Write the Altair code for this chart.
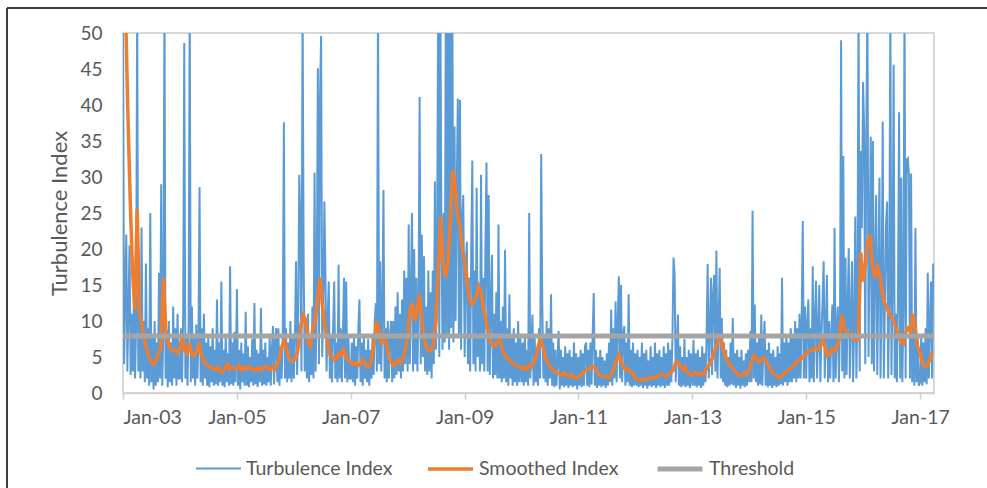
import altair as alt
import pandas as pd
import numpy as np

# ---------------- data ----------------
# Turbulence Index, roughly weekly samples, one list per year
turb_2003 = [55, 4, 13, 22, 3, 12, 20.5, 2.5, 11, 3, 14, 2, 9, 55, 3, 12, 2, 23, 3, 10, 1.5, 18, 2, 9, 1, 25,
             1.5, 8, 0.5, 10, 1, 7, 1.5, 16.7, 2, 29, 1, 9, 55, 2, 8, 0.8, 10, 1.5, 7, 1, 12, 2, 9, 1, 11, 2]
turb_2004 = [2, 9, 1.5, 11, 48.6, 2, 8, 1, 10, 55, 1.5, 12, 2, 8, 1, 9.5, 2, 7, 28.6, 1.5, 9, 1, 11, 2, 7, 1,
             8, 0.8, 6.5, 1.5, 9, 1, 6, 1.2, 13, 1, 7, 1.5, 15.5, 1, 6, 0.8, 8, 1.5, 5.5, 1, 17.6, 1.2, 7, 1, 8.5, 1.5]
turb_2005 = [14.4, 1, 6, 0.5, 7, 1.5, 5.5, 1, 11.3, 1, 6.5, 0.8, 5, 1.5, 7.5, 1, 12.5, 1.2, 6, 0.8, 5.5, 1.5,
             11.8, 1, 6, 1.2, 7, 1, 5, 1.5, 8, 1, 6, 9.3, 1.2, 7, 9, 1.5, 9, 1, 6.5, 2, 8, 37.6, 2, 9, 1.5, 7, 2, 10, 1.5, 8]
turb_2006 = [2, 8, 18.3, 2.5, 10, 30.3, 22.9, 3, 55, 18.3, 3, 9, 2, 11, 1.5, 8, 2.5, 12, 2, 30.6, 3, 14, 45.1, 4,
             41, 49.6, 5, 12, 26.6, 16, 3, 10, 15.5, 2, 8, 1.5, 9, 15.5, 2, 7, 1.5, 17.8, 2, 9, 1.5, 8, 16, 2, 15.5, 1.5, 8, 2]
turb_2007 = [2, 7, 1.5, 8, 1, 6.5, 2, 9, 13, 1.5, 7, 1, 8, 2, 6, 1.5, 7.5, 1, 6, 2, 8, 2.5, 10, 12.5, 3, 55, 4,
             18.3, 3, 11, 28.2, 2, 9, 1.5, 10, 2, 8, 10, 1.5, 10, 2, 12, 2.5, 14, 3, 11, 2, 13, 3, 17, 4, 16]
turb_2008 = [3, 23.4, 4, 14, 25, 3, 20, 4, 16, 3, 12, 41.1, 4, 22, 5, 19, 3, 12, 2.5, 17, 3, 14, 2, 17, 4, 29.4,
             6, 20, 55, 5, 55, 22, 6, 25, 7, 55, 8, 55, 6, 55, 9, 55, 7, 37, 10, 28, 40.9, 8, 40.7, 6, 24, 27.5]
turb_2009 = [5, 18, 21, 4, 16, 3, 20, 32.3, 4, 17, 3, 28.5, 5, 15, 3, 30.3, 4, 16, 3, 20, 32, 3, 27.5, 2.5, 12,
             19.2, 2, 11, 2.5, 14, 2, 23.4, 2, 10, 1.5, 12, 2, 19.9, 1.5, 9, 1, 13.7, 2, 8, 1, 9, 1.5, 7, 1, 10, 1.5, 8]
turb_2010 = [1.5, 7, 1, 8, 1.5, 6, 1, 25, 2, 7, 10.9, 1, 8, 1.5, 6, 1, 9, 2, 33.2, 12.3, 2, 8, 1.5, 10, 1, 9, 2,
             13.7, 1, 7, 0.8, 6, 1, 5, 8.6, 0.5, 6, 1, 5, 0.8, 6.5, 1, 5.5, 0.7, 6, 1, 5, 0.8, 7, 1, 5.5, 0.5]
turb_2011 = [5, 1, 6, 0.8, 5.5, 1, 6.5, 7, 1, 6, 0.8, 7, 1.2, 8, 13.9, 1, 6, 0.7, 5, 1, 6, 0.8, 5, 1, 4.5, 0.7,
             5.5, 1, 7, 1.5, 11.6, 1, 9, 2, 12.7, 1.5, 10, 16.2, 2, 15, 1.5, 8, 9.3, 1, 7, 1.5, 13.7, 1, 6, 0.8, 7, 1]
turb_2012 = [5.5, 1, 6, 0.8, 5, 1, 7, 0.7, 5.5, 1, 6, 0.6, 4.5, 1, 6.5, 0.8, 5, 1, 7, 0.7, 5.5, 1, 6, 0.8, 5, 1,
             6.5, 0.7, 5.5, 1, 7, 1, 6, 1.5, 8, 18.8, 16.4, 1.5, 6, 10.9, 1, 6.5, 0.8, 5, 1, 7.5, 0.8, 5, 1, 6, 0.7, 5.5]
turb_2013 = [1, 7.4, 1, 5.5, 0.8, 6, 1, 5, 0.7, 6.5, 1, 5.5, 1.5, 8, 17.9, 2, 9, 16, 2.5, 13.9, 16.4, 3, 19.8, 2,
             10, 17.4, 2, 10.4, 1.5, 7, 1, 6, 0.8, 5, 1, 7, 1.2, 10.4, 1, 5.5, 0.7, 6, 1, 5, 0.6, 6, 1, 4.5, 0.8, 5.5, 1, 6]
turb_2014 = [1.5, 8.6, 1.5, 25.3, 2, 12.3, 1.5, 7, 1, 8, 1.2, 10.9, 1, 7, 10, 1, 6, 0.8, 7, 1, 5.5, 0.7, 6, 1, 5,
             0.8, 6.5, 1, 5.5, 1.2, 16, 1, 7, 1.5, 8, 1, 7, 1.5, 9, 1.5, 8, 2, 10, 1.5, 9, 2, 11, 2, 10, 23.9, 2, 12]
turb_2015 = [2, 10, 13, 1.5, 9, 2, 17.6, 1.5, 10, 15.6, 2, 9, 15, 1.5, 8, 12.7, 18.3, 2, 9, 16.4, 1.5, 10, 2, 8,
             12.3, 1.5, 22.9, 2, 9, 12, 1.5, 10, 49, 3, 32.9, 2, 18.8, 2.5, 12, 20.1, 2, 11, 18.3, 1.5, 10, 24.5, 2, 12,
             55, 3, 33.6, 22.9]
turb_2016 = [43.2, 36.3, 4, 36.5, 55, 5, 20, 35.6, 4, 35, 3, 18, 27.5, 2.5, 16, 29.9, 2, 14, 37.7, 2, 12, 23.4,
             26.6, 2, 13, 55, 2.5, 15, 45.6, 2, 11, 1.5, 14, 39, 2, 29.9, 1.5, 12, 55, 2, 32.4, 32.6, 30.3, 2, 30.5,
             1.5, 10, 1, 22.9, 1.5, 8, 1]
turb_2017 = [1.5, 8, 1, 7, 1.5, 9, 1.2, 16.7, 2, 10, 15.5, 2, 18]

# Smoothed Index, roughly twice-monthly samples, one list per year
smooth_2003 = [90, 55, 40, 27, 17, 11.5, 25.5, 11, 9.5, 7.5, 6, 5, 4.3, 4, 4.5, 5.5, 6.2, 16, 9, 7, 6.2, 5.8, 6, 5.6]
smooth_2004 = [6, 8.2, 6, 5.5, 7, 5.5, 5.2, 5.5, 7, 5.5, 4.5, 4, 3.8, 3.5, 3.4, 3.2, 3.6, 3, 2.9, 3.5, 4, 3.3, 3.6, 3.4]
smooth_2005 = [3.4, 3.8, 3.2, 3.6, 3.3, 3.7, 3.4, 3.3, 3.1, 3.5, 3.2, 3.4, 3.8, 3.4, 3.2, 3.6, 3.3, 4, 5, 6.5, 7.3, 6, 4.8, 4.4]
smooth_2006 = [4.5, 5, 6.5, 9.5, 10.8, 10.2, 7, 6.5, 9, 10, 13, 16, 12.5, 9.5, 7.5, 5.5, 5, 4.6, 4.8, 5.5, 5.2, 6, 5, 4.5]
smooth_2007 = [4.4, 4, 4.2, 3.8, 4, 4.6, 4.2, 3.6, 3.8, 5, 7.5, 9.9, 8.5, 6.8, 8, 7, 5, 4.4, 3.8, 4, 4.6, 4.2, 4.8, 6]
smooth_2008 = [8, 11.5, 12.5, 10, 11.5, 13.7, 10, 7.5, 6.3, 5.8, 6, 7, 10, 18, 24.5, 18, 16, 18, 24, 31, 29, 25, 23, 20]
smooth_2009 = [18, 15.5, 13, 12.3, 12.8, 13.5, 14.8, 14, 11.5, 10, 8.5, 7, 6.5, 6.7, 7.2, 7.3, 6, 5.2, 4.8, 4.5, 4.2, 4, 3.8, 3.6]
smooth_2010 = [3.4, 3.6, 3.3, 3.8, 3.5, 4.2, 5, 6.5, 7.5, 6.5, 5, 4.2, 3.8, 3.2, 3, 2.8, 2.7, 2.5, 2.8, 2.5, 2.3, 2.6, 2.2, 2.1]
smooth_2011 = [2.2, 2.5, 2.8, 3.2, 3.3, 3.5, 3.7, 3.5, 2.9, 2.5, 2.3, 2.2, 2.3, 2.2, 2.6, 3.5, 4.5, 5.3, 4.5, 3.6, 3.2, 3.3, 2.9, 2.8]
smooth_2012 = [2, 1.9, 1.8, 1.9, 2, 1.9, 2, 2.2, 2.1, 2.3, 2.4, 2.6, 2.5, 2.3, 2.6, 2.8, 3.2, 4.2, 4.3, 3.8, 3.3, 3.6, 2.8, 2.6]
smooth_2013 = [2.5, 2.9, 2.7, 2.5, 2.8, 2.6, 3.4, 3.8, 4.5, 5.5, 6.5, 7.5, 7.8, 6, 5, 4.4, 3.8, 3.4, 3, 2.6, 2.4, 2.5, 2.8, 2.6]
smooth_2014 = [3.2, 4.4, 5.2, 4.8, 4.3, 4.5, 4.9, 4.6, 3.8, 3.2, 2.8, 2.5, 2.3, 2.1, 2.4, 2.9, 3, 3.3, 3.6, 3.9, 4.3, 4.5, 4.8, 5.2]
smooth_2015 = [5.4, 5.8, 6, 5.9, 6.3, 6, 6.6, 7.4, 6.3, 5.2, 5.5, 6.2, 5.8, 6.4, 7.5, 10.8, 9, 8.5, 8, 8.2, 7.5, 7.3, 7.4, 19.5]
smooth_2016 = [15.5, 18, 21, 22, 17.5, 16, 17.5, 16.5, 14, 12.5, 12, 11, 10.5, 10, 9, 8, 7, 6.8, 8.5, 9, 8.5, 11, 9, 6.5]
smooth_2017 = [5.5, 4.2, 3.7, 3.8, 4.5, 5.6]

threshold_value = 7.9
series_names = ["Turbulence Index", "Smoothed Index", "Threshold"]
series_colors = ["#5b9bd5", "#ed7d31", "#a5a5a5"]
series_widths = [2.0, 5.0, 3.5]
tick_years = list(range(2003, 2018, 2))

turb_years = {2003: turb_2003, 2004: turb_2004, 2005: turb_2005, 2006: turb_2006, 2007: turb_2007,
              2008: turb_2008, 2009: turb_2009, 2010: turb_2010, 2011: turb_2011, 2012: turb_2012,
              2013: turb_2013, 2014: turb_2014, 2015: turb_2015, 2016: turb_2016, 2017: turb_2017}
smooth_years = {2003: smooth_2003, 2004: smooth_2004, 2005: smooth_2005, 2006: smooth_2006, 2007: smooth_2007,
                2008: smooth_2008, 2009: smooth_2009, 2010: smooth_2010, 2011: smooth_2011, 2012: smooth_2012,
                2013: smooth_2013, 2014: smooth_2014, 2015: smooth_2015, 2016: smooth_2016, 2017: smooth_2017}

rows = []
for y, vals in turb_years.items():
    start = pd.Timestamp(year=y, month=1, day=1)
    for i, v in enumerate(vals):
        rows.append({"date": start + pd.Timedelta(days=7 * i), "value": v, "series": series_names[0]})
for y, vals in smooth_years.items():
    start = pd.Timestamp(year=y, month=1, day=1)
    for i, v in enumerate(vals):
        rows.append({"date": start + pd.Timedelta(days=int(round(i * 365 / 24))), "value": v,
                     "series": series_names[1]})
for d in ["2003-01-01", "2017-03-31"]:
    rows.append({"date": pd.Timestamp(d), "value": threshold_value, "series": series_names[2]})
df = pd.DataFrame(rows)
df["date"] = df["date"].dt.strftime("%Y-%m-%dT%H:%M:%S")

FONT = "Lato"
GREY_TXT = "#595959"

x_enc = alt.X("date:T",
              scale=alt.Scale(domain=[alt.DateTime(year=2003, month=1, date=1),
                                      alt.DateTime(year=2017, month=3, date=31)]),
              axis=alt.Axis(values=[alt.DateTime(year=yy, month=1, date=1) for yy in tick_years],
                            format="%b-%y", title=None, grid=False, labelFontSize=19.5,
                            labelColor=GREY_TXT, labelFont=FONT, domainColor="#cfcfcf",
                            domainWidth=1.5, tickColor="#cfcfcf", tickSize=6, tickWidth=1.5,
                            labelPadding=9))
y_enc = alt.Y("value:Q", scale=alt.Scale(domain=[0, 50], nice=False),
              axis=alt.Axis(values=list(range(0, 55, 5)), title="Turbulence Index", grid=False,
                            ticks=False, domain=False, labelFontSize=19, labelColor=GREY_TXT,
                            labelFont=FONT, labelPadding=21, titleFontSize=22, titleFont=FONT,
                            titleColor=GREY_TXT, titleFontWeight="normal", titlePadding=8))
legend_opts = dict(title=None, orient="none", legendX=72, legendY=411,
                   direction="horizontal", symbolType="stroke",
                   symbolSize=2025, labelFontSize=19.5, labelFont=FONT,
                   labelColor=GREY_TXT, labelOffset=4, columnPadding=28, padding=0)
color_enc = alt.Color("series:N",
                      scale=alt.Scale(domain=series_names, range=series_colors),
                      legend=alt.Legend(**legend_opts))
sw_enc = alt.StrokeWidth("series:N",
                         scale=alt.Scale(domain=series_names, range=series_widths),
                         legend=alt.Legend(**legend_opts))

base = alt.Chart(df)
layers = []
for name in series_names:
    layers.append(base.transform_filter(alt.datum.series == name)
                  .mark_line(clip=True, strokeJoin="miter", strokeCap="butt")
                  .encode(x=x_enc, y=y_enc, color=color_enc, strokeWidth=sw_enc))

frame_df = pd.DataFrame({"k": [0]})
frame_top = alt.Chart(frame_df).mark_rule(color="#3f3f3f", strokeWidth=2).encode(
    x=alt.value(-116), x2=alt.value(880), y=alt.value(-25))
frame_left = alt.Chart(frame_df).mark_rule(color="#3f3f3f", strokeWidth=2).encode(
    x=alt.value(-116), y=alt.value(-25), y2=alt.value(470))

chart = alt.layer(*layers, frame_top, frame_left).properties(
    width=811, height=360,
    autosize=alt.AutoSizeParams(type="none"),
    padding={"left": 123, "top": 33, "right": 53, "bottom": 95},
    background="white",
).configure_view(stroke="#cccccc", strokeWidth=1.5)

chart.save("out.html", embed_options={"renderer": "svg", "actions": False})
